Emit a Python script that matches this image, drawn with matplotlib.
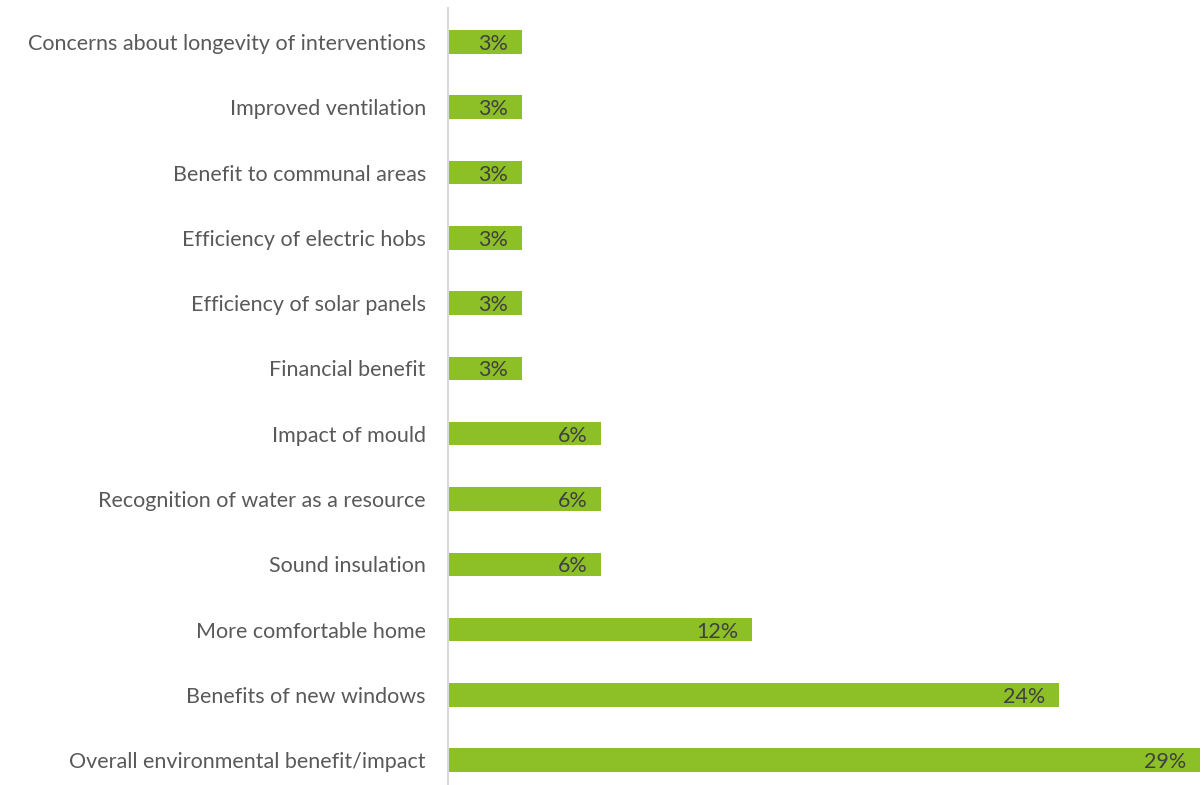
import matplotlib.pyplot as plt

plt.rcParams["font.family"] = ["Lato", "DejaVu Sans"]

categories = [
    "Concerns about longevity of interventions",
    "Improved ventilation",
    "Benefit to communal areas",
    "Efficiency of electric hobs",
    "Efficiency of solar panels",
    "Financial benefit",
    "Impact of mould",
    "Recognition of water as a resource",
    "Sound insulation",
    "More comfortable home",
    "Benefits of new windows",
    "Overall environmental benefit/impact",
]
values = [2.9, 2.9, 2.9, 2.9, 2.9, 2.9, 6.0, 6.0, 6.0, 11.9, 23.9, 29.4]
value_labels = ["3%", "3%", "3%", "3%", "3%", "3%", "6%", "6%", "6%", "12%", "24%", "29%"]

BAR = "#8DC026"
TEXT = "#404040"

fig = plt.figure(figsize=(12.02, 7.85), dpi=100)
ax = fig.add_axes([448 / 1202, 0, 752 / 1202, 777 / 785])

pos = list(range(len(categories)))[::-1]
ax.barh(pos, values, height=0.36, color=BAR)
for p, v, lab in zip(pos, values, value_labels):
    ax.text(v - 0.55, p, lab, ha="right", va="center_baseline",
            fontsize=15.5, color=TEXT)

ax.set_xlim(0, 29.4)
ax.set_ylim(-0.38, 11.52)
ax.set_yticks(pos)
ax.set_yticklabels(categories, fontsize=15.5, color="#595959")
ax.tick_params(axis="y", length=0, pad=16)
ax.set_xticks([])
for s in ("top", "right", "bottom"):
    ax.spines[s].set_visible(False)
ax.spines["left"].set_color("#D9D9D9")
ax.spines["left"].set_linewidth(1.5)

fig.savefig("out.png", dpi=100)
